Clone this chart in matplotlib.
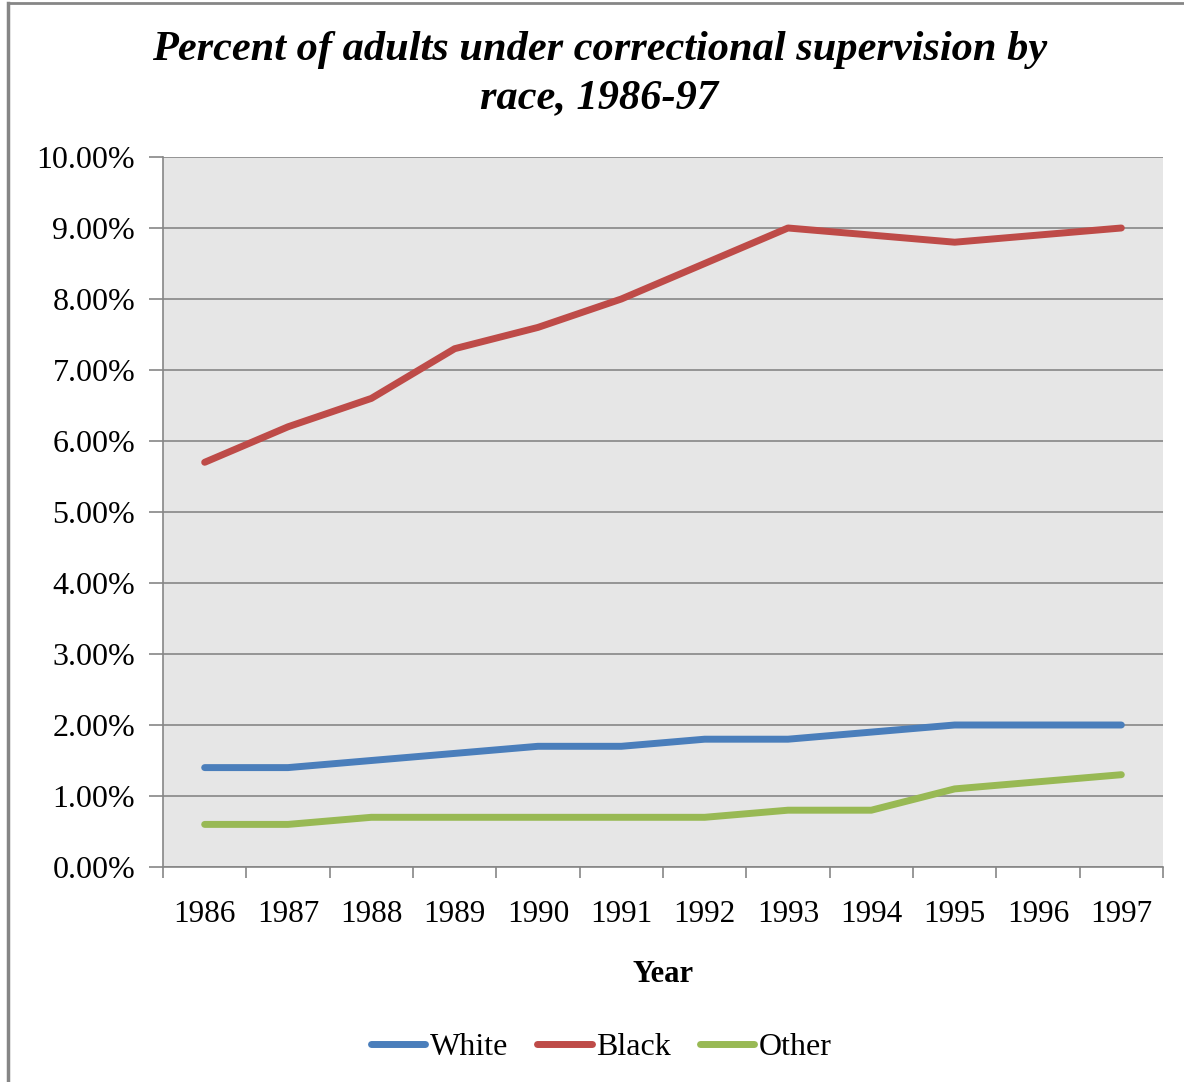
import numpy as np
import matplotlib.pyplot as plt
from matplotlib.lines import Line2D

years = ['1986', '1987', '1988', '1989', '1990', '1991',
         '1992', '1993', '1994', '1995', '1996', '1997']
white = [1.4, 1.4, 1.5, 1.6, 1.7, 1.7, 1.8, 1.8, 1.9, 2.0, 2.0, 2.0]
black = [5.7, 6.2, 6.6, 7.3, 7.6, 8.0, 8.5, 9.0, 8.9, 8.8, 8.9, 9.0]
other = [0.6, 0.6, 0.7, 0.7, 0.7, 0.7, 0.7, 0.8, 0.8, 1.1, 1.2, 1.3]
y_ticks = np.arange(0, 11, 1)

plt.rcParams['font.family'] = ['Liberation Serif', 'DejaVu Serif']

fig = plt.figure(figsize=(11.84, 10.82), dpi=100)
ax = fig.add_axes([163 / 1184, 1 - 867 / 1082, 1000 / 1184, 710 / 1082])
ax.set_facecolor('#e6e6e6')

x = np.arange(len(years))
lw = 5
ax.plot(x, white, color='#4a7ebb', linewidth=lw, solid_capstyle='round', label='White')
ax.plot(x, black, color='#be4b48', linewidth=lw, solid_capstyle='round', label='Black')
ax.plot(x, other, color='#98b954', linewidth=lw, solid_capstyle='round', label='Other')

ax.set_xlim(-0.5, len(years) - 0.5)
ax.set_ylim(0, 10)
ax.set_yticks(y_ticks)
ax.set_yticklabels(['%.2f%%' % v for v in y_ticks], fontsize=23)
ax.yaxis.grid(True, color='#868686', linewidth=1.2)
ax.set_axisbelow(True)

# year labels centred, tick marks on category boundaries
ax.set_xticks(x)
ax.set_xticklabels(years, fontsize=22.5)
ax.set_xticks(np.arange(-0.5, len(years), 1), minor=True)
ax.tick_params(axis='x', which='major', length=0, pad=24)
ax.tick_params(axis='x', which='minor', length=8, width=1.2, color='#868686')
ax.tick_params(axis='y', length=10, width=1.2, color='#868686', pad=10)

for side in ['top', 'right']:
    ax.spines[side].set_visible(False)
for side in ['left', 'bottom']:
    ax.spines[side].set_color('#868686')
    ax.spines[side].set_linewidth(1.2)

ax.set_xlabel('Year', fontsize=22, fontweight='bold', labelpad=22)

fig.text(0.506, 0.954, 'Percent of adults under correctional supervision by',
         ha='center', va='center', fontsize=30.5, fontweight='bold', style='italic')
fig.text(0.506, 0.909, 'race, 1986-97',
         ha='center', va='center', fontsize=30.5, fontweight='bold', style='italic')

handles = [Line2D([], [], color=c, linewidth=lw, solid_capstyle='round')
           for c in ['#4a7ebb', '#be4b48', '#98b954']]
fig.legend(handles, ['White', 'Black', 'Other'], loc='center', ncol=3,
           bbox_to_anchor=(0.508, 0.032), frameon=False, fontsize=23,
           handlelength=1.7, handletextpad=0.15, columnspacing=0.9)

# outer chart border
fig.add_artist(Line2D([8 / 1184, 8 / 1184], [0, 1 - 3 / 1082], color='#868686', linewidth=2.5))
fig.add_artist(Line2D([8 / 1184, 1], [1 - 3 / 1082, 1 - 3 / 1082], color='#868686', linewidth=2))

fig.savefig('out.png', dpi=100)
